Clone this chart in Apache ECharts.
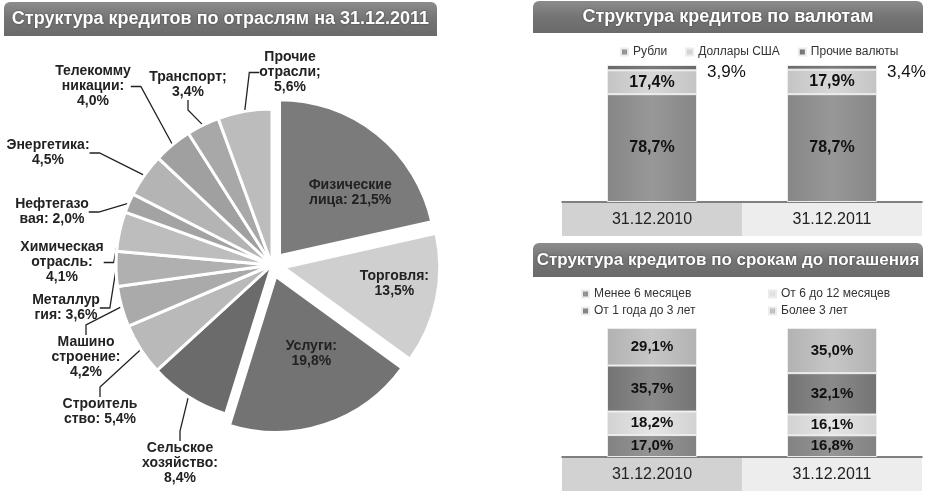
<!DOCTYPE html>
<html><head><meta charset="utf-8">
<script src="https://cdn.jsdelivr.net/npm/echarts@6/dist/echarts.min.js"></script>
<style>html,body{margin:0;padding:0;background:#fff}#c{width:928px;height:496px}</style>
</head><body><div id="c"></div>
<script>
// ---- Pie: loan structure by industry, 31.12.2011 ----
const pieNames = ['Физические лица','Торговля','Услуги','Сельское хозяйство','Строительство','Машиностроение','Металлургия','Химическая отрасль','Нефтегазовая','Энергетика','Телекоммуникации','Транспорт','Прочие отрасли'];
const pieLabelPrefix = ['Физические\nлица: ','Торговля:\n','Услуги:\n','Сельское\nхозяйство:\n','Строитель\nство: ','Машино\nстроение:\n','Металлур\nгия: ','Химическая\nотрасль:\n','Нефтегазо\nвая: ','Энергетика:\n','Телекомму\nникации:\n','Транспорт;\n','Прочие\nотрасли;\n'];
const pieValues = [21.5, 13.5, 19.8, 8.4, 5.4, 4.2, 3.6, 4.1, 2.0, 4.5, 4.0, 3.4, 5.6];
const pieColors = ['#7b7b7b','#cfcfcf','#737373','#6b6b6b','#b9b9b9','#aaaaaa','#b0b0b0','#bdbdbd','#a3a3a3','#b4b4b4','#a0a0a0','#a8a8a8','#bcbcbc'];
const pieInside = [true, true, true, false, false, false, false, false, false, false, false, false, false];
// label anchor (centre x, top y) for outside labels — layout only
const pieLabelPos = [null, null, null, [180, 441], [100, 397], [86, 335], [66, 293], [62, 240], [52, 197], [48, 138], [93, 64], [188, 70], [290, 50]];

// ---- Currency structure ----
const dates = ['31.12.2010', '31.12.2011'];
const curNames = ['Рубли', 'Доллары США', 'Прочие валюты'];
const curRub = [78.7, 78.7];
const curUsd = [17.4, 17.9];
const curOther = [3.9, 3.4];

// ---- Maturity structure ----
const matNames = ['Менее 6 месяцев', 'От 6 до 12 месяцев', 'От 1 года до 3 лет', 'Более 3 лет'];
const matLt6 = [17.0, 16.8];
const mat6to12 = [18.2, 16.1];
const mat1to3 = [35.7, 32.1];
const matGt3 = [29.1, 35.0];

const fmt = v => v.toFixed(1).replace('.', ',') + '%';
const FONT = 'Liberation Sans, Arial, sans-serif';
const PIE_CENTER = [272, 265];
const PIE_R = 156;
const START = 90;
const INNER_SHIFT = 32; // push inside labels outward along the slice's mid-angle

// mid-angle of every slice (degrees, counter-clockwise from +x), derived from the values
const pieTotal = pieValues.reduce((a, b) => a + b, 0);
const pieMid = (() => { let acc = 0; return pieValues.map(v => { const a = START - 360 * (acc + v / 2) / pieTotal; acc += v; return a; }); })();

function shiftPadding(angleDeg, d) {
  const a = angleDeg * Math.PI / 180;
  const dx = d * Math.cos(a), dy = -d * Math.sin(a);
  return [Math.max(0, 2 * dy), Math.max(0, -2 * dx), Math.max(0, -2 * dy), Math.max(0, 2 * dx)];
}

function hgrad(edge, mid) {
  return new echarts.graphic.LinearGradient(0, 0, 1, 0, [
    {offset: 0, color: edge}, {offset: 0.5, color: mid}, {offset: 1, color: edge}]);
}
function banner(x, y, w, h, text, size) {
  return {
    type: 'group', left: x, top: y,
    children: [
      {type: 'rect', shape: {x: 0, y: 0, width: w, height: h, r: [6, 6, 0, 0]},
       style: {fill: new echarts.graphic.LinearGradient(0, 0, 0, 1, [
         {offset: 0, color: '#8c8c8c'}, {offset: 0.5, color: '#747474'}, {offset: 1, color: '#6a6a6a'}])}},
      {type: 'text', x: w / 2, y: h / 2,
       style: {text: text, fill: '#fff', font: 'bold ' + size + 'px ' + FONT,
               align: 'center', verticalAlign: 'middle',
               textShadowColor: 'rgba(0,0,0,0.5)', textShadowBlur: 2}}
    ]
  };
}

const pieData = pieNames.map((n, i) => ({
  name: n, value: pieValues[i],
  selected: i < 3,
  itemStyle: {color: pieColors[i]},
  label: pieInside[i]
    ? {position: 'inside', padding: shiftPadding(pieMid[i], INNER_SHIFT)}
    : {position: 'outside'},
  labelLine: {show: !pieInside[i]}
}));

function barSeries(name, data, stack, grid, edge, mid, labelOpts) {
  return {
    name: name, type: 'bar', stack: stack, xAxisIndex: grid, yAxisIndex: grid,
    data: data, barWidth: 90,
    itemStyle: {color: hgrad(edge, mid), borderColor: '#ececec', borderWidth: 1},
    label: Object.assign({show: true, position: 'inside', formatter: p => fmt(p.value),
      color: '#111', fontWeight: 'bold', fontSize: 16, fontFamily: FONT}, labelOpts || {})
  };
}

const catAxis = (gi) => ({
  type: 'category', gridIndex: gi, data: dates,
  axisLine: {lineStyle: {color: '#555', width: 1.5}}, axisTick: {show: false},
  axisLabel: {
    margin: 1, interval: 0,
    formatter: (v, i) => i === 0 ? '{a|' + v + '}' : '{b|' + v + '}',
    rich: {
      a: {width: 180, height: 33, lineHeight: 33, align: 'center', backgroundColor: '#d2d2d2', fontSize: 16, color: '#222', fontFamily: FONT},
      b: {width: 180, height: 33, lineHeight: 33, align: 'center', backgroundColor: '#ededed', fontSize: 16, color: '#222', fontFamily: FONT}
    }
  }
});
const valAxis = (gi) => ({type: 'value', gridIndex: gi, min: 0, max: 100, show: false});

const legendText = {fontSize: 12, color: '#333'};
const option = {
  animation: false,
  backgroundColor: '#fff',
  textStyle: {fontFamily: FONT},
  graphic: [
    banner(4, 2, 433, 34, 'Структура кредитов по отраслям на 31.12.2011', 18),
    banner(533, 1, 390, 32, 'Структура кредитов по валютам', 18),
    banner(533, 243, 390, 34, 'Структура кредитов по срокам до погашения', 17)
  ],
  legend: [
    {data: curNames, left: 615, top: 41, itemWidth: 7, itemHeight: 7, itemGap: 18, icon: 'rect', textStyle: legendText},
    {data: [matNames[0], matNames[2]], orient: 'vertical', left: 576, top: 283, itemWidth: 7, itemHeight: 7, itemGap: 5, icon: 'rect', textStyle: legendText},
    {data: [matNames[1], matNames[3]], orient: 'vertical', left: 763, top: 283, itemWidth: 7, itemHeight: 7, itemGap: 5, icon: 'rect', textStyle: legendText}
  ],
  grid: [
    {left: 562, width: 360, top: 65, height: 137},
    {left: 562, width: 360, top: 328, height: 129}
  ],
  xAxis: [catAxis(0), catAxis(1)],
  yAxis: [valAxis(0), valAxis(1)],
  series: [
    {
      type: 'pie', center: PIE_CENTER, radius: PIE_R, startAngle: START, clockwise: true,
      selectedMode: 'multiple', selectedOffset: 12,
      avoidLabelOverlap: false,
      itemStyle: {borderColor: '#fff', borderWidth: 3},
      label: {fontSize: 14, fontWeight: 'bold', color: '#222', lineHeight: 15, fontFamily: FONT,
        formatter: p => pieLabelPrefix[p.dataIndex] + fmt(p.value)},
      labelLine: {length: 12, length2: 10, lineStyle: {color: '#222', width: 1.3}},
      labelLayout: function (params) {
        const p = pieLabelPos[params.dataIndex];
        if (!p) return {};
        return {x: p[0], y: p[1], align: 'center', verticalAlign: 'top'};
      },
      data: pieData
    },
    barSeries(curNames[0], curRub, 'cur', 0, '#868686', '#989898'),
    barSeries(curNames[1], curUsd, 'cur', 0, '#c4c4c4', '#d8d8d8'),
    barSeries(curNames[2], curOther, 'cur', 0, '#6a6a6a', '#7a7a7a',
      {position: 'right', distance: 10, offset: [0, 5], fontWeight: 'normal', fontSize: 17}),
    barSeries(matNames[0], matLt6, 'mat', 1, '#828282', '#959595', {fontSize: 15}),
    barSeries(matNames[1], mat6to12, 'mat', 1, '#d2d2d2', '#e6e6e6', {fontSize: 15}),
    barSeries(matNames[2], mat1to3, 'mat', 1, '#747474', '#8a8a8a', {fontSize: 15}),
    barSeries(matNames[3], matGt3, 'mat', 1, '#b2b2b2', '#c6c6c6', {fontSize: 15})
  ]
};
const chart = echarts.init(document.getElementById('c'), null, {renderer: 'canvas'});
chart.setOption(option);
</script></body></html>
